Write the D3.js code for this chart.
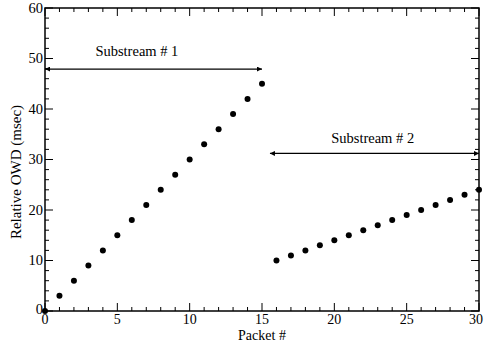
<!DOCTYPE html>
<html>
<head>
<meta charset="utf-8">
<script src="https://cdn.jsdelivr.net/npm/d3@7"></script>
<style>
  html, body { margin: 0; padding: 0; background: #fff; }
</style>
</head>
<body>
<svg id="chart" width="484" height="343"></svg>
<script>
// ── DATA ──
const packets1 = [0, 1, 2, 3, 4, 5, 6, 7, 8, 9, 10, 11, 12, 13, 14, 15];
const owd1     = [0, 3, 6, 9, 12, 15, 18, 21, 24, 27, 30, 33, 36, 39, 42, 45];
const packets2 = [16, 17, 18, 19, 20, 21, 22, 23, 24, 25, 26, 27, 28, 29, 30];
const owd2     = [10, 11, 12, 13, 14, 15, 16, 17, 18, 19, 20, 21, 22, 23, 24];
const xTicks   = [0, 5, 10, 15, 20, 25, 30];
const yTicks   = [0, 10, 20, 30, 40, 50, 60];
const arrows   = [
  { label: 'Substream # 1', x0: 0, x1: 15, y: 47.9, lx: 6.35, ly: 50.4 },
  { label: 'Substream # 2', x0: 15.55, x1: 30, y: 31.2, lx: 22.65, ly: 33.2 }
];

const FONT = "'Liberation Serif', 'Times New Roman', 'DejaVu Serif', serif";
const FS = 14.5;

const svg = d3.select('#chart').attr('font-family', FONT);
const M = { left: 45, right: 479, top: 8, bottom: 311 };

const x = d3.scaleLinear().domain([0, 30]).range([M.left, M.right]);
const y = d3.scaleLinear().domain([0, 60]).range([M.bottom, M.top]);

// arrow markers
const defs = svg.append('defs');
defs.append('marker').attr('id', 'arr').attr('viewBox', '0 -4 8 8')
  .attr('refX', 8).attr('refY', 0).attr('markerWidth', 7).attr('markerHeight', 5)
  .attr('markerUnits', 'userSpaceOnUse').attr('orient', 'auto-start-reverse')
  .append('path').attr('d', 'M0,-4L8,0L0,4Z').attr('fill', '#000');

// frame
svg.append('rect')
  .attr('x', M.left).attr('y', M.top)
  .attr('width', M.right - M.left).attr('height', M.bottom - M.top)
  .attr('fill', 'none').attr('stroke', '#000').attr('stroke-width', 1.5);

// ticks (inward on all four sides)
const g = svg.append('g').attr('stroke', '#000').attr('stroke-width', 1);
d3.range(0, 31, 1).forEach(v => {
  const len = v % 5 === 0 ? 8 : 4;
  g.append('line').attr('x1', x(v)).attr('x2', x(v)).attr('y1', M.bottom).attr('y2', M.bottom - len);
  g.append('line').attr('x1', x(v)).attr('x2', x(v)).attr('y1', M.top).attr('y2', M.top + len);
});
d3.range(0, 61, 2).forEach(v => {
  const len = v % 10 === 0 ? 8 : 4;
  g.append('line').attr('y1', y(v)).attr('y2', y(v)).attr('x1', M.left).attr('x2', M.left + len);
  g.append('line').attr('y1', y(v)).attr('y2', y(v)).attr('x1', M.right).attr('x2', M.right - len);
});

// tick labels (last x label nudged so it stays inside the window)
svg.append('g').selectAll('text').data(xTicks).join('text')
  .attr('x', d => Math.min(x(d), 476)).attr('y', M.bottom + 12.5)
  .attr('text-anchor', 'middle').attr('font-size', 14).text(d => d);
svg.append('g').selectAll('text').data(yTicks).join('text')
  .attr('x', M.left - 2).attr('y', d => y(d) + (d === 0 ? 3 : 4.5))
  .attr('text-anchor', 'end').attr('font-size', FS).text(d => d);

// axis titles
svg.append('text').attr('x', x(15)).attr('y', 339.5)
  .attr('text-anchor', 'middle').attr('font-size', 14).text('Packet #');
svg.append('text').attr('transform', 'translate(21,172) rotate(-90)')
  .attr('text-anchor', 'middle').attr('font-size', 15).text('Relative OWD (msec)');

// arrows and labels
arrows.forEach(a => {
  svg.append('line')
    .attr('x1', x(a.x0)).attr('x2', x(a.x1)).attr('y1', y(a.y)).attr('y2', y(a.y))
    .attr('stroke', '#000').attr('stroke-width', 1.2)
    .attr('marker-start', 'url(#arr)').attr('marker-end', 'url(#arr)');
  svg.append('text').attr('x', x(a.lx)).attr('y', y(a.ly))
    .attr('text-anchor', 'middle').attr('font-size', FS).text(a.label);
});

// points
const pts = packets1.map((p, i) => [p, owd1[i]]).concat(packets2.map((p, i) => [p, owd2[i]]));
svg.append('g').selectAll('circle').data(pts).join('circle')
  .attr('cx', d => x(d[0])).attr('cy', d => y(d[1])).attr('r', 3).attr('fill', '#000');
</script>
</body>
</html>
